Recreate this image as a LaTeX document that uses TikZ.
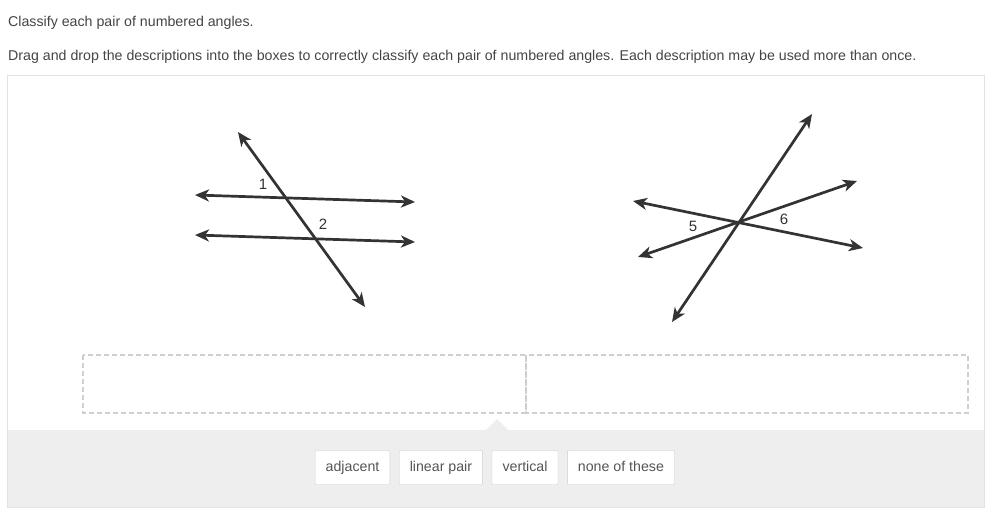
\documentclass[tikz,border=0pt]{standalone}
\usepackage{fontspec}
\setmainfont{Liberation Sans}
\usetikzlibrary{arrows.meta, positioning}
\definecolor{ink}{HTML}{333333}
\definecolor{bodytext}{HTML}{444444}
\definecolor{chiptext}{HTML}{555555}
\definecolor{chipline}{HTML}{CCCCCC}
\definecolor{panelline}{HTML}{E2E2E2}
\definecolor{slotline}{HTML}{CFCFCF}
\definecolor{tray}{HTML}{EEEEEE}

\begin{document}
\begin{tikzpicture}[x=1pt,y=-1pt,
    every node/.style={font=\fontsize{14.2}{17}\selectfont}]
  \tikzstyle{ray}=[ink,line width=2.7pt,{Stealth[length=14pt,width=12pt,inset=4pt]}-{Stealth[length=14pt,width=12pt,inset=4pt]}]
  \tikzstyle{chip}=[draw=chipline,fill=white,rounded corners=1pt,minimum height=34pt,inner xsep=10.5pt,text height=10.5pt,text depth=3pt,text=chiptext]
  \tikzstyle{slot}=[draw=slotline,line width=1.5pt,dash pattern=on 5pt off 3pt]
  \tikzstyle{num}=[text=ink,inner sep=0pt,font=\fontsize{15}{18}\selectfont]
  \useasboundingbox (0,0) rectangle (998,524);

  % Instructions
  \node[anchor=base west,text=bodytext,inner sep=0pt] (title) at (8,27) {Classify each pair of numbered angles.};
  \node[anchor=base west,text=bodytext,inner sep=0pt] (hint) at (8,61) {Drag and drop the descriptions into the boxes to correctly classify each pair of numbered angles. Each description may be used more than once.};

  % Panel and tray
  \draw[panelline] (7.5,75.5) rectangle (984.5,507.5);
  \fill[tray] (8,430) rectangle (984,507);
  \fill[tray] (486,430) -- (497,419) -- (508,430) -- cycle;

  % Drop boxes
  \draw[slot] (83,355) rectangle (526,413);
  \draw[slot] (526,355) rectangle (968,413);

  % Left figure
  \coordinate (t1) at (238,132);
  \coordinate (t2) at (365,307);
  \coordinate (a1) at (195,195);
  \coordinate (a2) at (415,202);
  \coordinate (b1) at (195,235);
  \coordinate (b2) at (415,242);
  \draw[ray] (t1) -- (t2);
  \draw[ray] (a1) -- (a2);
  \draw[ray] (b1) -- (b2);
  \node[num] (n1) at (263,184) {1};
  \node[num] (n2) at (323,224) {2};

  % Right figure
  \coordinate (p1) at (812,114);
  \coordinate (p2) at (672,322);
  \coordinate (q1) at (633,201);
  \coordinate (q2) at (863,248);
  \coordinate (r1) at (638,257);
  \coordinate (r2) at (857,181);
  \draw[ray] (p1) -- (p2);
  \draw[ray] (q1) -- (q2);
  \draw[ray] (r1) -- (r2);
  \node[num] (n5) at (693,226) {5};
  \node[num] (n6) at (784,219) {6};

  % Descriptions
  \node[chip,anchor=west] (adj) at (315,467.5) {adjacent};
  \node[chip] (lin) [right=9pt of adj] {linear pair};
  \node[chip] (ver) [right=9pt of lin] {vertical};
  \node[chip] (non) [right=9pt of ver] {none of these};
\end{tikzpicture}
\end{document}
